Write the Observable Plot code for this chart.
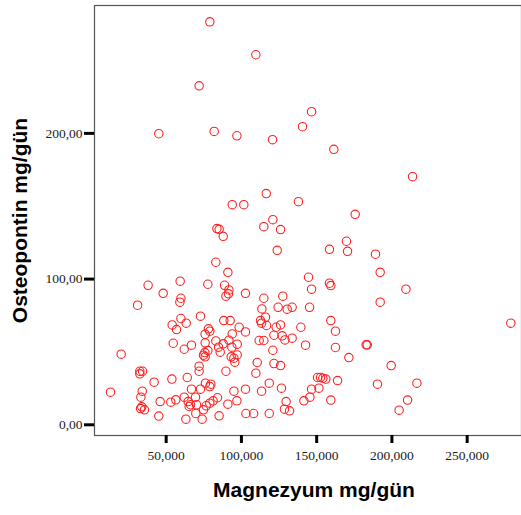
<!DOCTYPE html>
<html>
<head>
<meta charset="utf-8">
<script src="https://cdn.jsdelivr.net/npm/d3@7"></script>
<script src="https://cdn.jsdelivr.net/npm/@observablehq/plot@0.6"></script>
<style>
  html, body { margin: 0; padding: 0; background: #fff; }
  #chart svg { display: block; }
</style>
</head>
<body>
<div id="chart"></div>
<script>
const magnezyum = [
  79.0,109.6,71.9,146.6,140.6,45.1,81.9,97.0,120.7,161.4,
  213.7,116.5,137.9,93.9,101.6,175.6,120.9,114.9,126.0,83.7,
  85.2,87.9,169.8,170.5,158.5,123.8,189.1,83.0,192.2,91.0,
  144.6,59.3,77.7,38.0,88.8,158.5,159.4,209.3,146.6,91.7,
  48.0,102.7,91.4,89.7,127.5,114.9,59.8,59.1,192.2,31.0,
  113.6,124.4,130.4,133.7,145.3,72.8,59.8,88.3,92.5,116.0,
  112.7,159.4,279.0,63.3,54.0,113.4,116.7,126.0,123.1,98.5,
  139.5,56.9,78.1,79.0,75.9,93.9,102.7,162.5,121.6,127.1,
  133.7,128.9,83.0,91.7,75.9,97.2,54.7,66.8,111.8,114.9,
  142.6,182.9,183.6,84.8,87.9,93.6,62.0,162.5,75.7,77.7,
  120.9,85.9,20.1,74.8,75.9,97.2,93.2,95.0,171.4,95.6,
  110.5,121.6,126.0,199.5,71.9,89.7,71.9,32.5,34.3,32.5,
  109.6,150.6,152.6,154.1,156.1,163.9,64.0,53.8,42.0,118.5,
  216.6,190.4,76.1,79.7,79.0,66.8,72.8,102.7,126.6,146.6,
  151.5,95.0,113.4,34.1,13.0,33.2,62.0,69.5,84.1,145.5,
  56.4,46.0,53.1,64.6,81.2,97.0,129.7,141.5,159.4,210.4,
  66.2,70.2,79.0,76.6,91.0,65.3,33.8,33.0,35.6,74.8,
  128.6,132.0,204.8,69.7,103.0,108.1,118.5,45.1,85.2,63.1,
  73.9
];
const osteopontin = [
  274.5,251.9,230.6,212.8,202.5,197.7,199.3,196.3,193.6,187.0,
  168.2,156.6,151.1,149.0,149.0,142.4,138.7,133.9,131.9,132.6,
  132.1,127.3,123.9,117.0,118.4,117.7,115.0,109.5,102.6,102.6,
  99.2,96.5,94.4,93.7,93.7,95.1,93.5,91.0,91.0,90.5,
  88.2,88.2,87.8,86.2,86.2,84.8,84.8,82.1,82.1,80.0,
  77.5,78.6,77.3,78.6,78.6,72.5,70.9,69.5,69.5,71.8,
  69.5,69.5,67.7,67.7,66.5,67.7,66.1,66.5,64.9,64.9,
  64.9,63.3,63.8,62.2,60.1,60.3,61.7,62.2,59.4,59.0,
  57.4,56.2,55.5,56.0,54.2,53.3,53.9,52.6,55.8,55.8,
  52.6,52.8,52.8,51.2,53.5,51.2,49.8,51.0,47.5,48.9,
  49.1,47.8,46.4,45.7,44.6,45.9,44.6,43.7,44.1,40.9,
  40.7,40.0,38.6,38.6,38.2,34.7,34.7,34.7,34.7,32.9,
  33.4,30.4,30.4,29.9,29.3,28.3,30.4,29.3,27.2,26.5,
  26.5,25.8,26.5,25.8,24.2,22.4,22.4,22.4,23.1,22.4,
  23.1,21.0,21.0,21.0,20.3,16.9,16.9,16.9,16.5,16.9,
  15.1,13.9,13.5,13.9,14.4,14.4,13.9,14.4,14.9,14.9,
  11.7,11.7,12.8,11.0,12.1,10.5,10.3,9.1,8.2,8.2,
  8.7,7.5,8.0,5.7,5.7,5.7,5.7,3.9,4.1,1.8,
  1.8
];
const xTicks = [50, 100, 150, 200, 250];
const yTicks = [0, 100, 200];
const xTitle = "Magnezyum mg/gün";
const yTitle = "Osteopontin mg/gün";

const data = magnezyum.map((m, i) => ({ m, o: osteopontin[i] }));
const comma = (d, n) => d.toFixed(n).replace(".", ",");

const chart = Plot.plot({
  width: 521,
  height: 515,
  marginLeft: 94,
  marginRight: 0,
  marginTop: 5,
  marginBottom: 80,
  x: { domain: [2.38, 286.1] },
  y: { domain: [-9.4, 285.7] },
  style: { background: "#fff", overflow: "visible" },
  marks: [
    Plot.frame({ stroke: "#555", strokeWidth: 1.2 }),
    Plot.axisX({
      ticks: xTicks, tickSize: 8, tickPadding: 7, strokeWidth: 3, stroke: "#000",
      tickFormat: d => comma(d, 3), label: null,
      fontFamily: "Liberation Serif", fontSize: 13.5, fill: "#222"
    }),
    Plot.axisY({
      ticks: yTicks, tickSize: 10, tickPadding: 2, strokeWidth: 3, stroke: "#000",
      tickFormat: d => comma(d, 2), label: null, dy: 3,
      fontFamily: "Liberation Serif", fontSize: 13.5, fill: "#222"
    }),
    Plot.dot(data, {
      x: "m", y: "o", r: 4.2, stroke: "#ff2020", strokeWidth: 1.1, fill: "none"
    }),
    Plot.text([xTitle], {
      frameAnchor: "bottom", textAnchor: "middle", dy: 61, dx: 6, text: d => d,
      fontFamily: "Liberation Sans", fontWeight: "bold", fontSize: 21, fill: "#000"
    }),
    Plot.text([yTitle], {
      frameAnchor: "left", textAnchor: "middle", dx: -74, rotate: -90, text: d => d,
      fontFamily: "Liberation Sans", fontWeight: "bold", fontSize: 21, fill: "#000"
    })
  ]
});
document.getElementById("chart").appendChild(chart);
</script>
</body>
</html>
